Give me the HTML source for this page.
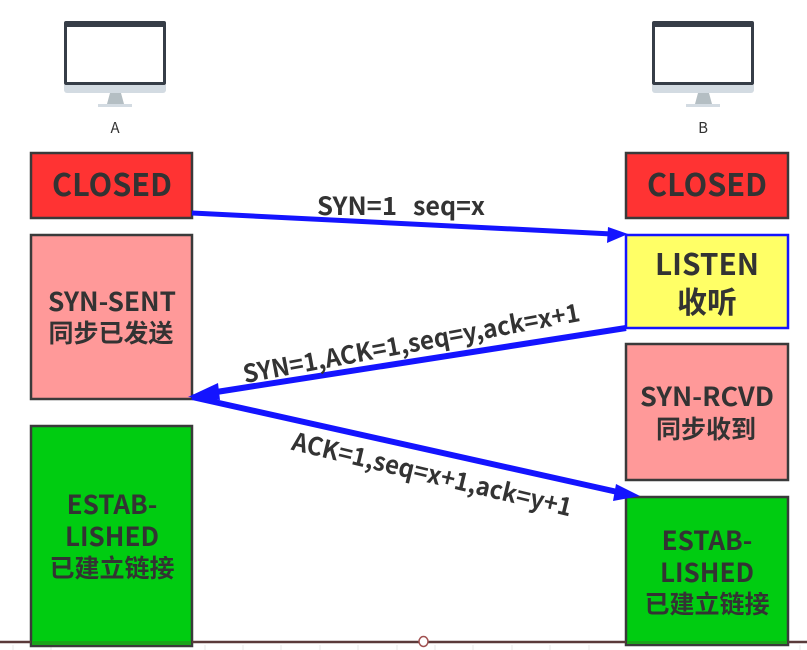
<!DOCTYPE html>
<html><head><meta charset="utf-8"><style>
html,body{margin:0;padding:0;background:#fff;width:807px;height:650px;overflow:hidden}
svg{display:block}
text{font-family:"Noto Sans CJK SC","Liberation Sans",sans-serif;fill:#333;text-anchor:middle}
.b{font-weight:700}
</style></head><body>
<svg width="807" height="650" viewBox="0 0 807 650" xmlns="http://www.w3.org/2000/svg">
<rect width="807" height="650" fill="#fff"/>
<defs>
<g id="pc">
<rect x="0" y="0" width="102" height="64" rx="2" fill="#363d47"/>
<rect x="3" y="6" width="96" height="55" fill="#fff"/>
<path d="M0 64h102v5a3 3 0 0 1-3 3H3a3 3 0 0 1-3-3z" fill="#d3dbe2"/>
<path d="M46 72h11l3 11H43z" fill="#b4bec3"/>
<rect x="34" y="83" width="34" height="3" fill="#d3dbe2"/>
</g>
</defs>
<use href="#pc" x="64" y="21"/>
<use href="#pc" x="652" y="21"/>
<text x="115" y="133" font-size="15">A</text>
<text x="703" y="133" font-size="15">B</text>

<g stroke="#e8e8e8" stroke-width="1">
<path d="M13 645v5M51 645v5M205 645v5M243 645v5M281 645v5M320 645v5M358 645v5M397 645v5M435 645v5M473 645v5M512 645v5M550 645v5M589 645v5M800 645v5"/>
</g>

<g stroke="#3a3a3a" stroke-width="2.5">
<rect x="31" y="153" width="161" height="65" fill="#ff3333"/>
<rect x="31" y="235" width="161" height="164" fill="#ff9999"/>
<rect x="31" y="426" width="161" height="220" fill="#00cc11"/>
<rect x="626" y="153" width="162" height="65" fill="#ff3333"/>
<rect x="626" y="344" width="162" height="136" fill="#ff9999"/>
<rect x="626" y="497" width="162" height="148" fill="#00cc11"/>
</g>
<rect x="626" y="235" width="162" height="93" fill="#ffff66" stroke="#1414ff" stroke-width="2.5"/>

<text class="b" x="112" y="196" font-size="31" textLength="120" lengthAdjust="spacingAndGlyphs">CLOSED</text>
<text class="b" x="707" y="196" font-size="31" textLength="120" lengthAdjust="spacingAndGlyphs">CLOSED</text>
<text class="b" x="112" y="311" font-size="26" textLength="128" lengthAdjust="spacingAndGlyphs">SYN-SENT</text>
<text class="b" x="111" y="342" font-size="25">同步已发送</text>
<text class="b" x="112" y="514" font-size="26">ESTAB-</text>
<text class="b" x="112" y="546" font-size="26">LISHED</text>
<text class="b" x="112" y="577" font-size="25">已建立链接</text>
<text class="b" x="707" y="275" font-size="30" textLength="104" lengthAdjust="spacingAndGlyphs">LISTEN</text>
<text class="b" x="707" y="313" font-size="30">收听</text>
<text class="b" x="707" y="406" font-size="26" textLength="134" lengthAdjust="spacingAndGlyphs">SYN-RCVD</text>
<text class="b" x="706" y="438" font-size="25">同步收到</text>
<text class="b" x="707" y="550" font-size="26">ESTAB-</text>
<text class="b" x="707" y="582" font-size="26">LISHED</text>
<text class="b" x="707" y="613" font-size="25">已建立链接</text>

<g stroke="#1414ff" fill="none">
<line x1="192" y1="213" x2="612" y2="234" stroke-width="5"/>
<line x1="626" y1="328" x2="210" y2="393" stroke-width="6"/>
<line x1="192" y1="397" x2="622" y2="493" stroke-width="6"/>
</g>
<g fill="#1414ff">
<path d="M628 234L608 227L607 243z"/>
<path d="M188 397L218 383L220 400z"/>
<path d="M640 496L616 484L613 501z"/>
</g>

<text class="b" x="357" y="215" font-size="25" textLength="80" lengthAdjust="spacingAndGlyphs">SYN=1</text>
<text class="b" x="449" y="215" font-size="25" textLength="72" lengthAdjust="spacingAndGlyphs">seq=x</text>
<text class="b" transform="translate(413 352) rotate(-10.500)" font-size="25" textLength="342" lengthAdjust="spacingAndGlyphs">SYN=1,ACK=1,seq=y,ack=x+1</text>
<text class="b" transform="translate(430 483) rotate(13.500)" font-size="25" textLength="287" lengthAdjust="spacingAndGlyphs">ACK=1,seq=x+1,ack=y+1</text>

<line x1="0" y1="642" x2="31" y2="642" stroke="#5a3a3a" stroke-width="2.5"/>
<line x1="192" y1="642" x2="626" y2="642" stroke="#5a3a3a" stroke-width="2.5"/>
<line x1="788" y1="642" x2="807" y2="642" stroke="#5a3a3a" stroke-width="2.5"/>
<rect x="32" y="641" width="159" height="4" fill="#1aa51a"/>
<rect x="627" y="641" width="160" height="3" fill="#1aa51a"/>
<ellipse cx="423.500" cy="641.500" rx="4.500" ry="5" fill="#fff" stroke="#a05050" stroke-width="1.500"/>
</svg>
</body></html>
